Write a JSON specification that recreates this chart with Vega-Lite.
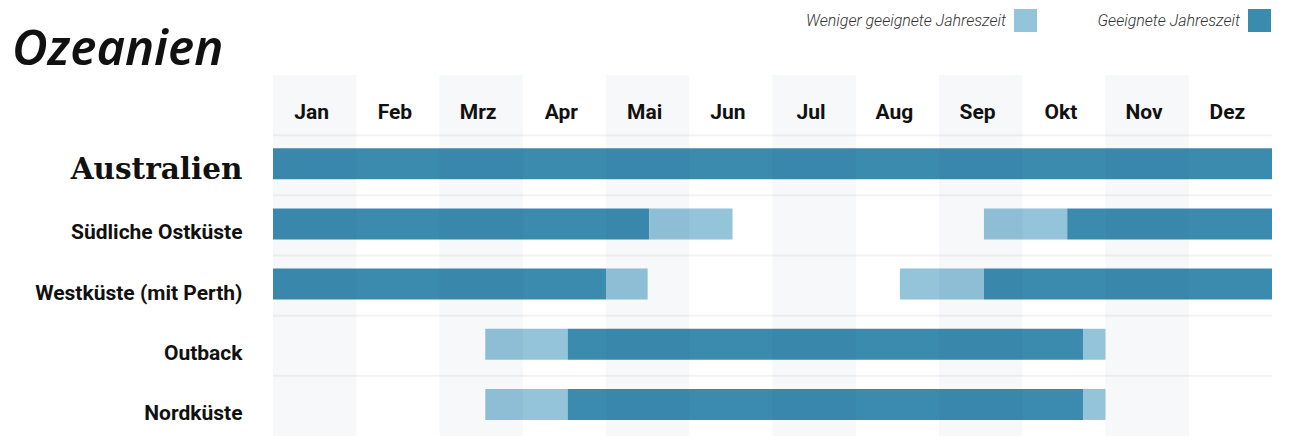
{
  "$schema": "https://vega.github.io/schema/vega-lite/v6.json",
  "width": 999,
  "height": 361,
  "autosize": {"type": "none"},
  "padding": {"left": 273, "top": 75, "right": 19, "bottom": 0},
  "background": "white",
  "config": {"view": {"stroke": null}},
  "title": {
    "text": "Ozeanien",
    "anchor": "start",
    "frame": "group",
    "dx": -261,
    "dy": 115,
    "offset": 10,
    "font": "Noto Sans",
    "fontStyle": "italic",
    "fontWeight": 600,
    "fontSize": 49,
    "color": "#111111",
    "baseline": "alphabetic"
  },
  "datasets": {
    "bars": [
      {"row": "Australien", "start": 0, "end": 12, "kind": "Geeignete Jahreszeit"},
      {"row": "Südliche Ostküste", "start": 0, "end": 4.52, "kind": "Geeignete Jahreszeit"},
      {"row": "Südliche Ostküste", "start": 4.52, "end": 5.52, "kind": "Weniger geeignete Jahreszeit"},
      {"row": "Südliche Ostküste", "start": 8.54, "end": 9.54, "kind": "Weniger geeignete Jahreszeit"},
      {"row": "Südliche Ostküste", "start": 9.54, "end": 12, "kind": "Geeignete Jahreszeit"},
      {"row": "Westküste (mit Perth)", "start": 0, "end": 4.0, "kind": "Geeignete Jahreszeit"},
      {"row": "Westküste (mit Perth)", "start": 4.0, "end": 4.5, "kind": "Weniger geeignete Jahreszeit"},
      {"row": "Westküste (mit Perth)", "start": 7.53, "end": 8.54, "kind": "Weniger geeignete Jahreszeit"},
      {"row": "Westküste (mit Perth)", "start": 8.54, "end": 12, "kind": "Geeignete Jahreszeit"},
      {"row": "Outback", "start": 2.55, "end": 3.54, "kind": "Weniger geeignete Jahreszeit"},
      {"row": "Outback", "start": 3.54, "end": 9.73, "kind": "Geeignete Jahreszeit"},
      {"row": "Outback", "start": 9.73, "end": 10.0, "kind": "Weniger geeignete Jahreszeit"},
      {"row": "Nordküste", "start": 2.55, "end": 3.54, "kind": "Weniger geeignete Jahreszeit"},
      {"row": "Nordküste", "start": 3.54, "end": 9.73, "kind": "Geeignete Jahreszeit"},
      {"row": "Nordküste", "start": 9.73, "end": 10.0, "kind": "Weniger geeignete Jahreszeit"}
    ],
    "months": [
      {"month": "Jan", "start": 0, "end": 1, "mid": 0.5, "shade": true, "row": "header"},
      {"month": "Feb", "start": 1, "end": 2, "mid": 1.5, "shade": false, "row": "header"},
      {"month": "Mrz", "start": 2, "end": 3, "mid": 2.5, "shade": true, "row": "header"},
      {"month": "Apr", "start": 3, "end": 4, "mid": 3.5, "shade": false, "row": "header"},
      {"month": "Mai", "start": 4, "end": 5, "mid": 4.5, "shade": true, "row": "header"},
      {"month": "Jun", "start": 5, "end": 6, "mid": 5.5, "shade": false, "row": "header"},
      {"month": "Jul", "start": 6, "end": 7, "mid": 6.5, "shade": true, "row": "header"},
      {"month": "Aug", "start": 7, "end": 8, "mid": 7.5, "shade": false, "row": "header"},
      {"month": "Sep", "start": 8, "end": 9, "mid": 8.5, "shade": true, "row": "header"},
      {"month": "Okt", "start": 9, "end": 10, "mid": 9.5, "shade": false, "row": "header"},
      {"month": "Nov", "start": 10, "end": 11, "mid": 10.5, "shade": true, "row": "header"},
      {"month": "Dez", "start": 11, "end": 12, "mid": 11.5, "shade": false, "row": "header"}
    ],
    "rows": [
      {"row": "Australien"},
      {"row": "Südliche Ostküste"},
      {"row": "Westküste (mit Perth)"},
      {"row": "Outback"},
      {"row": "Nordküste"}
    ]
  },
  "layer": [
    {
      "data": {"name": "rows"},
      "mark": {"type": "rule", "color": "#f3f3f3", "strokeWidth": 2},
      "encoding": {
        "y": {
          "field": "row", "type": "nominal", "bandPosition": 0,
          "scale": {"domain": ["header", "Australien", "Südliche Ostküste", "Westküste (mit Perth)", "Outback", "Nordküste"], "paddingInner": 0, "paddingOuter": 0},
          "axis": {
            "title": null, "domain": false, "ticks": false, "labelPadding": 31,
            "labelExpr": "datum.value == 'header' ? '' : datum.value",
            "labelBaseline": "alphabetic", "labelOffset": 14,
            "labelFont": {"condition": {"test": "datum.value == 'Australien'", "value": "DejaVu Serif"}, "value": "Roboto"},
            "labelFontSize": {"condition": {"test": "datum.value == 'Australien'", "value": 29.5}, "value": 21},
            "labelFontWeight": "bold",
            "labelColor": "#111111", "labelLimit": 300
          }
        }
      }
    },
    {
      "data": {"name": "bars"},
      "mark": {"type": "bar", "height": {"band": 0.515}, "yOffset": -1.5, "opacity": 1},
      "encoding": {
        "x": {"field": "start", "type": "quantitative", "scale": {"domain": [0, 12], "nice": false, "zero": false}, "axis": null},
        "x2": {"field": "end"},
        "y": {
          "field": "row", "type": "nominal",
          "scale": {"domain": ["header", "Australien", "Südliche Ostküste", "Westküste (mit Perth)", "Outback", "Nordküste"], "paddingInner": 0, "paddingOuter": 0}
        },
        "color": {
          "field": "kind", "type": "nominal",
          "scale": {"domain": ["Weniger geeignete Jahreszeit", "Geeignete Jahreszeit"], "range": ["#93c4da", "#3b8baf"]},
          "legend": {
            "title": null, "orient": "none", "direction": "horizontal",
            "legendX": 741, "legendY": -66,
            "symbolType": "square", "symbolSize": 529, "symbolStrokeWidth": 0, "symbolOpacity": 1,
            "labelAlign": "right", "labelOffset": -31,
            "labelFont": "Roboto", "labelFontStyle": "italic", "labelFontWeight": 300, "labelFontSize": 16, "labelColor": "#333333",
            "labelLimit": 300, "columnPadding": 60
          }
        }
      }
    },
    {
      "data": {"name": "months"},
      "transform": [{"filter": "datum.shade"}],
      "mark": {"type": "rect", "color": "#0a1e3c", "opacity": 0.032},
      "encoding": {
        "x": {"field": "start", "type": "quantitative", "scale": {"domain": [0, 12], "nice": false, "zero": false}},
        "x2": {"field": "end"}
      }
    },
    {
      "data": {"name": "months"},
      "mark": {"type": "text", "font": "Roboto", "fontWeight": "bold", "fontSize": 21, "color": "#111111", "baseline": "alphabetic", "dy": 14, "dx": -3, "align": "center"},
      "encoding": {
        "x": {"field": "mid", "type": "quantitative", "scale": {"domain": [0, 12], "nice": false, "zero": false}},
        "y": {
          "field": "row", "type": "nominal",
          "scale": {"domain": ["header", "Australien", "Südliche Ostküste", "Westküste (mit Perth)", "Outback", "Nordküste"], "paddingInner": 0, "paddingOuter": 0}
        },
        "text": {"field": "month"}
      }
    }
  ]
}
